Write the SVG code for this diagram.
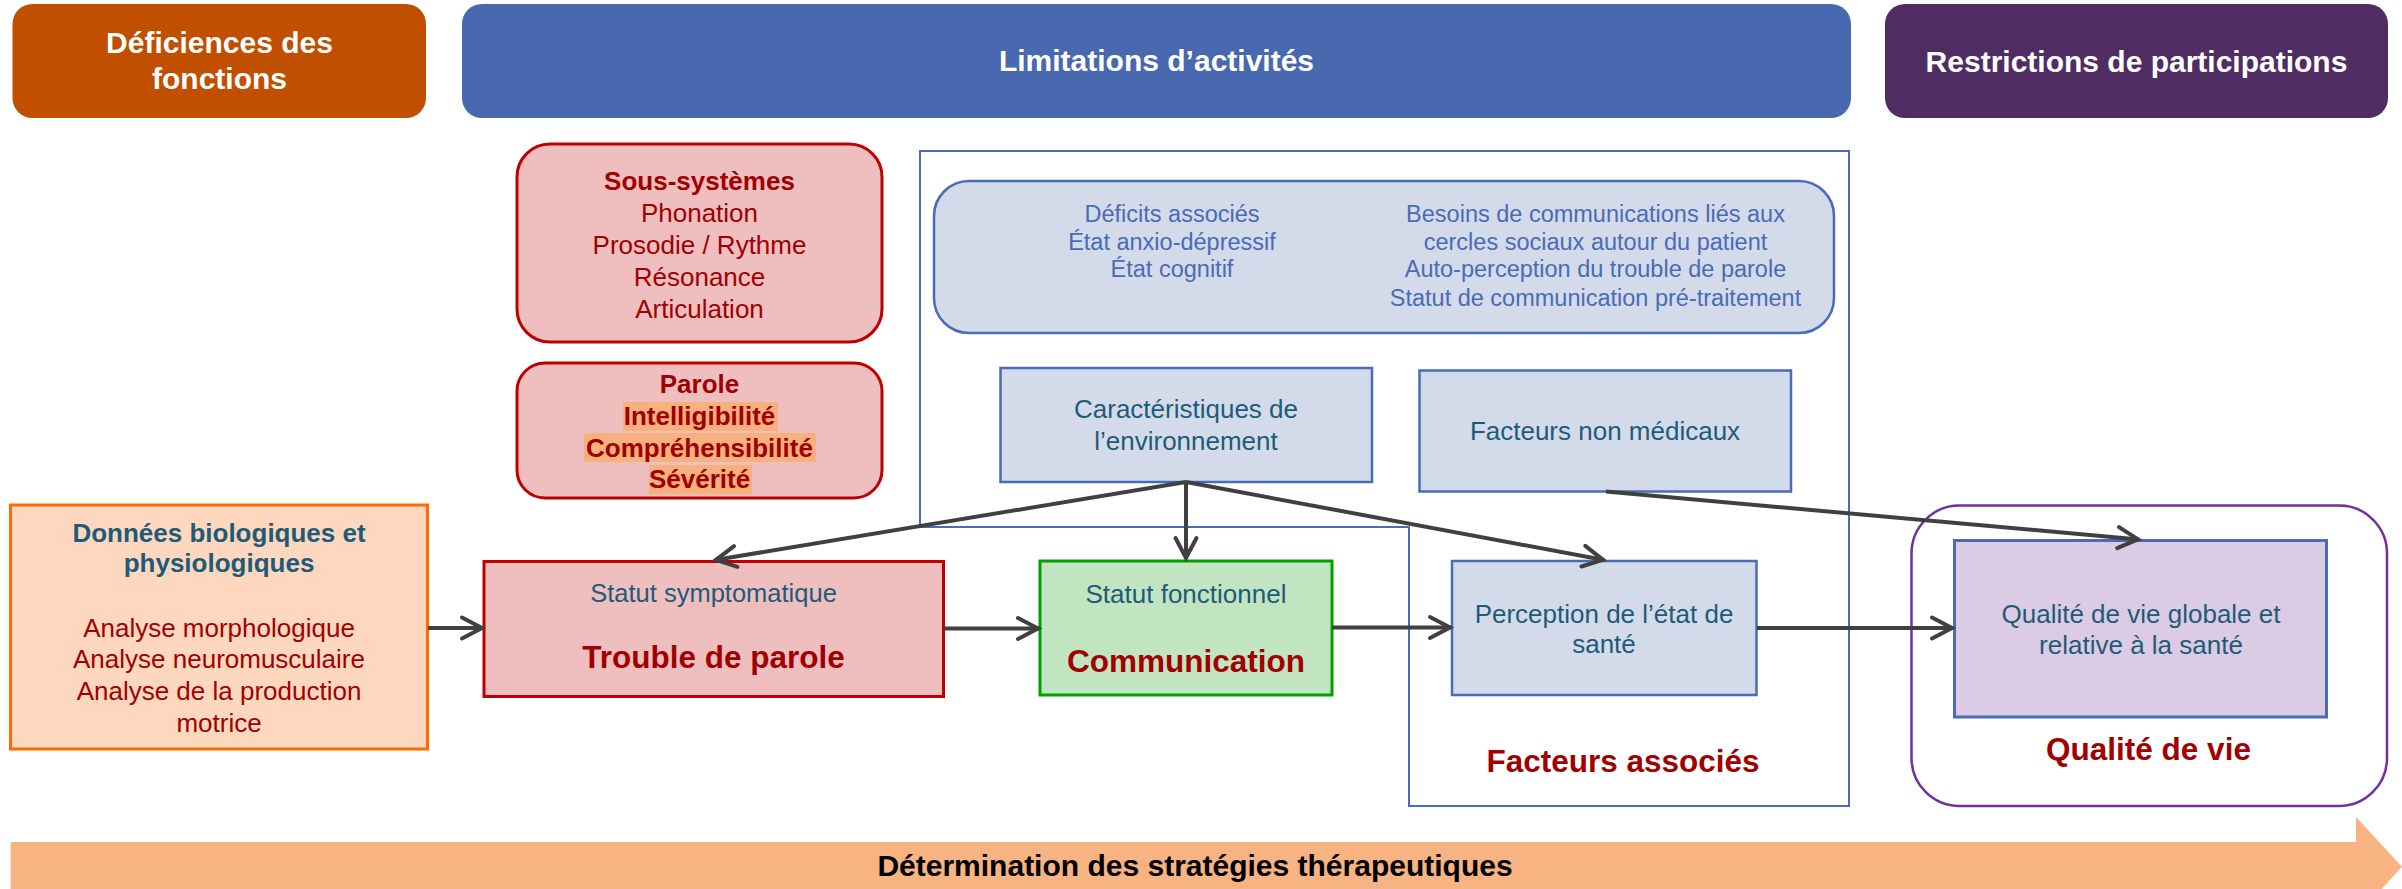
<svg xmlns="http://www.w3.org/2000/svg" width="2402" height="889" viewBox="0 0 2402 889">
<defs>
<style>
text{font-family:"Liberation Sans",Arial,sans-serif;text-anchor:middle}
.hd{font-size:30px;font-weight:bold;fill:#FFFFFF}
.red{fill:#A20000;font-weight:bold}
.teal{fill:#1F5B78}
.blu{fill:#4A6BB5;font-size:23.5px}
.pink{fill:#EFBEBF;stroke:#C00000;stroke-width:3}
.lb{fill:#D3DAEA;stroke:#4A6BB5;stroke-width:2.5}
.con{fill:none;stroke:#404040;stroke-width:4;marker-end:url(#ah)}
.hl{fill:#F6B17F}
</style>
<marker id="ah" markerUnits="userSpaceOnUse" markerWidth="40" markerHeight="40" viewBox="-30 -20 40 40" refX="1" refY="0" orient="auto" overflow="visible">
<path d="M-20,-10.5 L0,0 L-20,10.5" fill="none" stroke="#404040" stroke-width="4" stroke-linecap="round"/>
</marker>
</defs>
<rect width="2402" height="889" fill="#FFFFFF"/>

<g id="header-deficiences">
<rect x="12.5" y="4" width="413.5" height="114" rx="20" fill="#C04F00"/>
<text class="hd" x="219.5" y="53">Déficiences des</text>
<text class="hd" x="219.5" y="89">fonctions</text>
</g>
<g id="header-limitations">
<rect x="462" y="4" width="1389" height="114" rx="20" fill="#4868AF"/>
<text class="hd" x="1156.5" y="71">Limitations d’activités</text>
</g>
<g id="header-restrictions">
<rect x="1885" y="4" width="503" height="114" rx="20" fill="#4F2D63"/>
<text class="hd" x="2136.5" y="72">Restrictions de participations</text>
</g>

<g id="facteurs-associes">
<path d="M920,151 H1849 V806 H1409 V527 H920 Z" fill="none" stroke="#4A6BB5" stroke-width="2"/>
<text class="red" x="1623" y="772" font-size="31.5">Facteurs associés</text>
</g>

<g id="qualite-de-vie">
<rect x="1911.5" y="505.5" width="475.5" height="300.5" rx="48" fill="none" stroke="#7030A0" stroke-width="2.5"/>
<text class="red" x="2148.5" y="760" font-size="31.5">Qualité de vie</text>
</g>

<g id="sous-systemes">
<rect class="pink" x="517" y="144" width="365" height="198" rx="33"/>
<text x="699.5" y="190" font-size="26" class="red">Sous-systèmes</text>
<text x="699.5" y="222" font-size="26" fill="#A20000">Phonation</text>
<text x="699.5" y="254" font-size="26" fill="#A20000">Prosodie / Rythme</text>
<text x="699.5" y="286" font-size="26" fill="#A20000">Résonance</text>
<text x="699.5" y="318" font-size="26" fill="#A20000">Articulation</text>
</g>

<g id="parole">
<rect class="pink" x="517" y="363" width="365" height="135" rx="28"/>
<rect class="hl" x="623" y="402" width="155" height="29"/>
<rect class="hl" x="584" y="433" width="232" height="29"/>
<rect class="hl" x="649" y="465" width="103" height="29"/>
<text x="699.5" y="393" font-size="26" class="red">Parole</text>
<text x="699.5" y="425" font-size="26" class="red">Intelligibilité</text>
<text x="699.5" y="457" font-size="26" class="red">Compréhensibilité</text>
<text x="699.5" y="488" font-size="26" class="red">Sévérité</text>
</g>

<g id="besoins">
<rect class="lb" x="934" y="181" width="900" height="152" rx="35"/>
<text class="blu" x="1172" y="221.7">Déficits associés</text>
<text class="blu" x="1172" y="250">État anxio-dépressif</text>
<text class="blu" x="1172" y="277.3">État cognitif</text>
<text class="blu" x="1595.5" y="221.7">Besoins de communications liés aux</text>
<text class="blu" x="1595.5" y="250">cercles sociaux autour du patient</text>
<text class="blu" x="1595.5" y="277.3">Auto-perception du trouble de parole</text>
<text class="blu" x="1595.5" y="305.7">Statut de communication pré-traitement</text>
</g>

<g id="environnement">
<rect class="lb" x="1000.5" y="368" width="371.5" height="114"/>
<text class="teal" x="1186" y="418" font-size="26">Caractéristiques de</text>
<text class="teal" x="1186" y="450" font-size="26">l’environnement</text>
</g>

<g id="non-medicaux">
<rect class="lb" x="1419.5" y="370.5" width="371.5" height="121"/>
<text class="teal" x="1605" y="440" font-size="26">Facteurs non médicaux</text>
</g>

<g id="donnees">
<rect x="10.5" y="505" width="417" height="244" fill="#FDD8BE" stroke="#FF6A00" stroke-width="3"/>
<text x="219" y="541.7" font-size="26" font-weight="bold" fill="#1F5B78">Données biologiques et</text>
<text x="219" y="571.7" font-size="26" font-weight="bold" fill="#1F5B78">physiologiques</text>
<text x="219" y="636.7" font-size="26" fill="#A20000">Analyse morphologique</text>
<text x="219" y="668" font-size="26" fill="#A20000">Analyse neuromusculaire</text>
<text x="219" y="700" font-size="26" fill="#A20000">Analyse de la production</text>
<text x="219" y="731.7" font-size="26" fill="#A20000">motrice</text>
</g>

<g id="trouble">
<rect x="484" y="561.5" width="459.5" height="135" fill="#EFBEBF" stroke="#C00000" stroke-width="3"/>
<text class="teal" x="713.5" y="601.7" font-size="25.5">Statut symptomatique</text>
<text class="red" x="713.5" y="668" font-size="31.5">Trouble de parole</text>
</g>

<g id="communication">
<rect x="1040" y="561" width="292" height="134" fill="#C1E5C0" stroke="#00A000" stroke-width="3"/>
<text class="teal" x="1186" y="603" font-size="26">Statut fonctionnel</text>
<text class="red" x="1186" y="672" font-size="31.5">Communication</text>
</g>

<g id="perception">
<rect class="lb" x="1452" y="561" width="304.5" height="134"/>
<text class="teal" x="1604" y="622.7" font-size="26">Perception de l’état de</text>
<text class="teal" x="1604" y="653" font-size="26">santé</text>
</g>

<g id="qualite-globale">
<rect x="1954.5" y="540.5" width="372" height="176.5" fill="#DCCBE4" stroke="#4A6BB5" stroke-width="3"/>
<text class="teal" x="2141" y="623" font-size="26">Qualité de vie globale et</text>
<text class="teal" x="2141" y="654" font-size="26">relative à la santé</text>
</g>

<g id="connectors">
<line class="con" x1="428" y1="628" x2="483" y2="628"/>
<line class="con" x1="944" y1="628.5" x2="1039" y2="628.5"/>
<line class="con" x1="1332" y1="627.5" x2="1451" y2="627.5"/>
<line class="con" x1="1757" y1="628" x2="1953" y2="628"/>
<line class="con" x1="1186" y1="482" x2="715" y2="560"/>
<line class="con" x1="1186" y1="482" x2="1186" y2="559"/>
<line class="con" x1="1186" y1="482" x2="1604" y2="560"/>
<line class="con" x1="1606" y1="491.5" x2="2139" y2="539.5"/>
</g>

<g id="strategies">
<polygon points="10.7,842 2356,842 2356,817 2402,866.7 2356,917 2356,891.4 10.7,891.4" fill="#F7B382"/>
<text x="1195" y="876" font-size="30" font-weight="bold" fill="#000000">Détermination des stratégies thérapeutiques</text>
</g>
</svg>
